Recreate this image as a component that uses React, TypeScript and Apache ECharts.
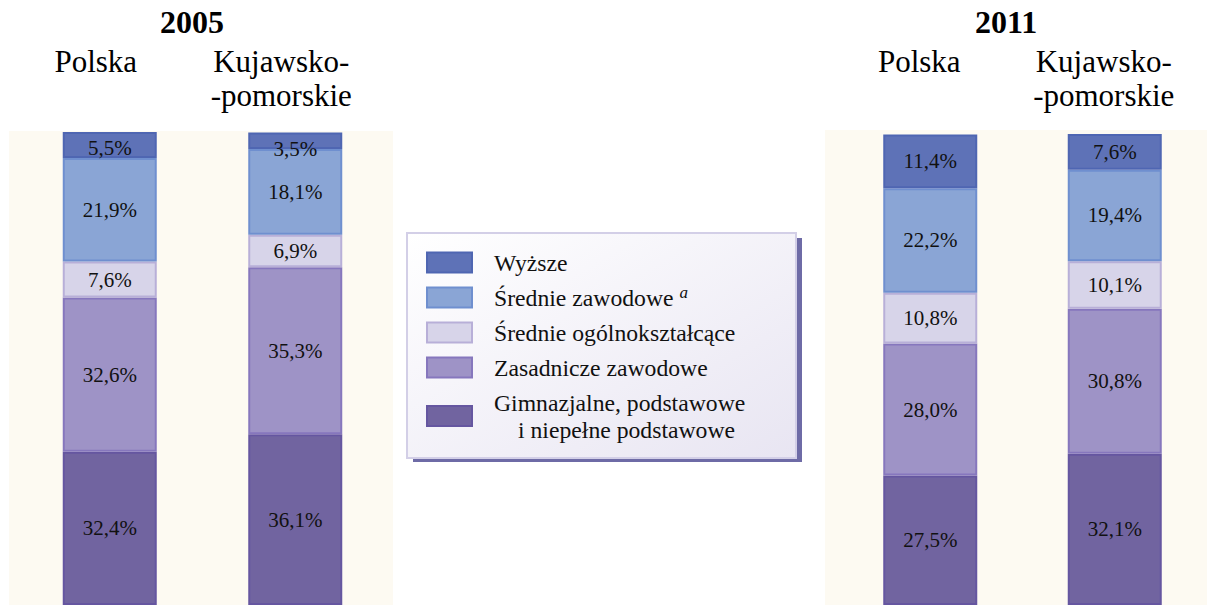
import React, { useEffect, useRef } from 'react';
import * as echarts from 'echarts';

// ---- data ----
const years = ['2005', '2011'];
const regions = ['Polska', 'Kujawsko-\n-pomorskie'];
// series (bottom -> top of the stack)
const levels = [
  'Gimnazjalne, podstawowe i niepełne podstawowe',
  'Zasadnicze zawodowe',
  'Średnie ogólnokształcące',
  'Średnie zawodowe',
  'Wyższe',
];
// legend order (top -> bottom)
const legendOrder = [
  'Wyższe',
  'Średnie zawodowe',
  'Średnie ogólnokształcące',
  'Zasadnicze zawodowe',
  'Gimnazjalne, podstawowe i niepełne podstawowe',
];
// values: [Polska, Kujawsko-pomorskie]
const gimnazjalne2005 = [32.4, 36.1];
const zasadnicze2005 = [32.6, 35.3];
const ogolnoksztalcace2005 = [7.6, 6.9];
const srednieZawodowe2005 = [21.9, 18.1];
const wyzsze2005 = [5.5, 3.5];

const gimnazjalne2011 = [27.5, 32.1];
const zasadnicze2011 = [28.0, 30.8];
const ogolnoksztalcace2011 = [10.8, 10.1];
const srednieZawodowe2011 = [22.2, 19.4];
const wyzsze2011 = [11.4, 7.6];

const values2005 = [gimnazjalne2005, zasadnicze2005, ogolnoksztalcace2005, srednieZawodowe2005, wyzsze2005];
const values2011 = [gimnazjalne2011, zasadnicze2011, ogolnoksztalcace2011, srednieZawodowe2011, wyzsze2011];

// ---- styles ----
const FONT = 'Liberation Serif';
const fills = ['#7164A0', '#9E93C6', '#D7D4E9', '#8AA5D5', '#5E72B7'];
const borders = ['#6556A0', '#8677BD', '#B8AFD8', '#6F8FCF', '#4F66B2'];

const fmt = (v: number) => v.toFixed(1).replace('.', ',') + '%';

export default function App() {
  const ref = useRef<HTMLDivElement>(null);

  useEffect(() => {
    if (!ref.current) return;
    const chart = echarts.init(ref.current, undefined, { renderer: 'svg' });

    const makeSeries = (vals: number[][], gridIdx: number) =>
      vals.map((data, i) => ({
        name: levels[i],
        type: 'bar',
        stack: 'y' + gridIdx,
        xAxisIndex: gridIdx,
        yAxisIndex: gridIdx,
        barWidth: 94,
        data,
        itemStyle: { color: fills[i], borderColor: borders[i], borderWidth: 2 },
        label: {
          show: true,
          position: 'inside',
          fontFamily: FONT,
          fontSize: 21,
          color: '#111',
          formatter: (p: any) => fmt(p.value),
        },
        // thin top segments: label sits slightly low, as in the original
        labelLayout: (p: any) =>
          p.rect && p.rect.height < 30 ? { dy: p.rect.height < 20 ? 8 : 3 } : {},
      }));

    const xAxisBase = (gridIndex: number, margin: number, padRight: number) => ({
      gridIndex,
      type: 'category',
      data: regions,
      position: 'top',
      axisLine: { show: false },
      axisTick: { show: false },
      axisLabel: {
        interval: 0,
        fontFamily: FONT,
        fontSize: 31,
        color: '#000',
        lineHeight: 34,
        verticalAlign: 'top',
        margin,
        padding: [0, padRight, 0, 0],
      },
    });

    const legendName = (name: string) => {
      if (name === 'Średnie zawodowe') return '{n|Średnie zawodowe}{s|a}';
      if (name.startsWith('Gimnazjalne')) return '{n|Gimnazjalne, podstawowe}\n{m|i niepełne podstawowe}';
      return '{n|' + name + '}';
    };

    chart.setOption({
      animation: false,
      backgroundColor: '#ffffff',
      grid: [
        { left: 17, width: 371, top: 132, height: 475 },
        { left: 838, width: 372, top: 134, height: 475 },
      ],
      xAxis: [xAxisBase(0, 88, 28), xAxisBase(1, 90, 22)],
      yAxis: [
        { gridIndex: 0, type: 'value', min: 0, max: 100, show: false },
        { gridIndex: 1, type: 'value', min: 0, max: 100, show: false },
      ],
      legend: {
        orient: 'vertical',
        left: 426,
        top: 249,
        padding: 0,
        itemGap: 8,
        itemWidth: 45,
        itemHeight: 20,
        selectedMode: false,
        icon: 'rect',
        data: legendOrder.map((name) => {
          const i = levels.indexOf(name);
          return { name, itemStyle: { color: fills[i], borderColor: borders[i], borderWidth: 2 } };
        }),
        formatter: legendName,
        textStyle: {
          fontFamily: FONT,
          fontSize: 23.7,
          lineHeight: 27,
          color: '#111',
          rich: {
            n: { fontFamily: FONT, fontSize: 23.7, lineHeight: 27, color: '#111', padding: [0, 0, 0, 17] },
            m: { fontFamily: FONT, fontSize: 23.7, lineHeight: 27, color: '#111', padding: [0, 0, 0, 41] },
            s: { fontFamily: FONT, fontSize: 17, lineHeight: 17, fontStyle: 'italic', color: '#111', padding: [0, 0, 0, 6], verticalAlign: 'top' },
          },
        },
      },
      graphic: [
        { type: 'rect', z: 0, shape: { x: 9, y: 131, width: 384, height: 480 }, style: { fill: '#FDFAF2' } },
        { type: 'rect', z: 0, shape: { x: 825, y: 130, width: 390, height: 480 }, style: { fill: '#FDFAF2' } },
        { type: 'rect', z: 1, shape: { x: 413, y: 238, width: 389, height: 224 }, style: { fill: '#6E6BA6' } },
        {
          type: 'rect',
          z: 1,
          shape: { x: 407, y: 233, width: 389, height: 225 },
          style: {
            fill: new echarts.graphic.LinearGradient(0, 0, 1, 1, [
              { offset: 0, color: '#FFFFFF' },
              { offset: 1, color: '#E8E5F2' },
            ]),
            stroke: '#D3CFE7',
            lineWidth: 2,
          },
        },
        {
          type: 'text', z: 3, x: 192, y: 22,
          style: { text: years[0], fontFamily: FONT, fontSize: 32, fontWeight: 'bold', fill: '#000', align: 'center', verticalAlign: 'middle' },
        },
        {
          type: 'text', z: 3, x: 1006, y: 22,
          style: { text: years[1], fontFamily: FONT, fontSize: 32, fontWeight: 'bold', fill: '#000', align: 'center', verticalAlign: 'middle' },
        },
      ],
      series: [...makeSeries(values2005, 0), ...makeSeries(values2011, 1)],
    });

    return () => chart.dispose();
  }, []);

  return (
    <div
      ref={ref}
      style={{ position: 'absolute', left: 0, top: 0, width: 1207, height: 605, background: '#fff' }}
    />
  );
}
